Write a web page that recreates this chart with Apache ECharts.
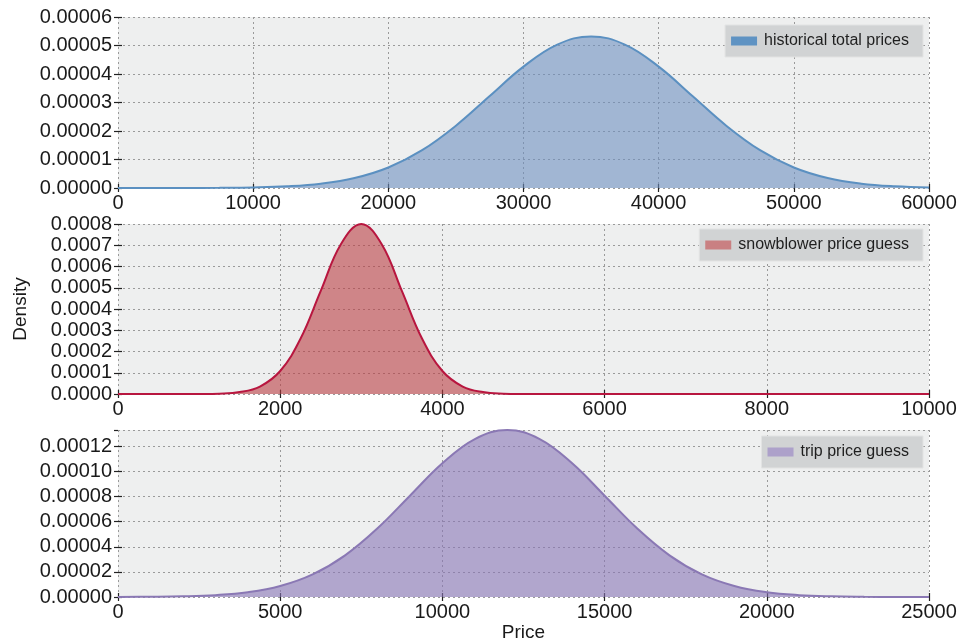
<!DOCTYPE html>
<html>
<head>
<meta charset="utf-8">
<title>Price densities</title>
<script src="https://cdn.jsdelivr.net/npm/echarts@6/dist/echarts.min.js"></script>
<style>
  html, body { margin: 0; padding: 0; background: #ffffff; }
  #chart { width: 965px; height: 643px; }
</style>
</head>
<body>
<div id="chart"></div>
<script>
// Density estimates, sampled along each price range
const histPrices = [0, 2500, 5000, 7500, 10000, 12500, 15000, 17500, 20000, 22500, 25000, 27500, 30000,
  32500, 35000, 37500, 40000, 42500, 45000, 47500, 50000, 52500, 55000, 57500, 60000];
const histDensity = [0.000000001, 0.0000000045, 0.000000018, 0.000000064, 0.000000205, 0.00000059,
  0.00000152, 0.0000035, 0.0000072, 0.00001327, 0.00002187, 0.00003227, 0.0000426, 0.00005033,
  0.0000532, 0.00005033, 0.0000426, 0.00003227, 0.00002187, 0.00001327, 0.0000072, 0.0000035,
  0.00000152, 0.00000059, 0.000000205];

const snowPrices = [0, 250, 500, 750, 1000, 1250, 1500, 1750, 2000, 2250, 2500, 2750, 3000, 3250,
  3500, 3750, 4000, 4250, 4500, 4750, 5000, 5250, 5500, 5750, 6000, 6500, 7000, 7500, 8000, 8500,
  9000, 9500, 10000];
const snowDensity = [0, 0, 0, 0.000000001, 0.00000027, 0.00000175, 0.0000089, 0.0000352, 0.0001083,
  0.0002597, 0.0004852, 0.000706, 0.0008, 0.000706, 0.0004852, 0.0002597, 0.0001083, 0.0000352,
  0.0000089, 0.00000175, 0.00000027, 0.00000003, 0.000000003, 0, 0, 0, 0, 0, 0, 0, 0, 0, 0];

const tripPrices = [0, 1000, 2000, 3000, 4000, 5000, 6000, 7000, 8000, 9000, 10000, 11000, 12000,
  13000, 14000, 15000, 16000, 17000, 18000, 19000, 20000, 21000, 22000, 23000, 24000, 25000];
const tripDensity = [0.000000045, 0.00000016, 0.00000051, 0.00000148, 0.0000038, 0.00000874,
  0.000018, 0.0000332, 0.0000547, 0.0000807, 0.0001065, 0.0001258, 0.000133, 0.0001258, 0.0001065,
  0.0000807, 0.0000547, 0.0000332, 0.000018, 0.00000874, 0.0000038, 0.00000148, 0.00000051,
  0.00000016, 0.000000045, 0.000000012];

// Axis ranges and tick steps for the three panels
const xRanges = [[0, 60000, 10000], [0, 10000, 2000], [0, 25000, 5000]];
const yRanges = [[0, 0.00006, 0.00001, 5], [0, 0.0008, 0.0001, 4], [0, 0.000133, 0.00002, 5]];
const seriesNames = ['historical total prices', 'snowblower price guess', 'trip price guess'];

const lineColors = ['#5b90c1', '#b8163f', '#8a78b4'];
const fillColors = ['rgba(110,144,191,0.6)', 'rgba(186,62,66,0.6)', 'rgba(136,117,182,0.6)'];
const legendColors = ['#5f93c3', '#c98082', '#ada1ca'];

const FONT = '"Liberation Sans", Helvetica, Arial, sans-serif';
const grids = [
  { left: 118, right: 36, top: 17, height: 171 },
  { left: 118, right: 36, top: 224, height: 170 },
  { left: 118, right: 36, top: 430, height: 170 }
];

const gridLine = { show: true, lineStyle: { color: '#9a9a9a', type: [2, 3], width: 1 } };
const tickIn = { show: true, inside: true, length: 4, lineStyle: { color: '#222', width: 1.2 } };

const xAxes = [], yAxes = [], series = [], legends = [];
const seriesData = [
  histPrices.map((p, i) => [p, histDensity[i]]),
  snowPrices.map((p, i) => [p, snowDensity[i]]),
  tripPrices.map((p, i) => [p, tripDensity[i]])
];
const legendBoxes = [
  { right: 42, top: 25 },
  { right: 42, top: 229 },
  { right: 42, top: 436 }
];

for (let g = 0; g < 3; g++) {
  const [xmin, xmax, xint] = xRanges[g];
  const [ymin, ymax, yint, dec] = yRanges[g];
  // bottom axis with labels
  xAxes.push({
    type: 'value', gridIndex: g, position: 'bottom', min: xmin, max: xmax, interval: xint,
    axisLine: { show: false }, axisTick: tickIn, splitLine: gridLine,
    axisLabel: { color: '#1a1a1a', fontSize: 20, fontFamily: FONT, margin: 5, formatter: v => String(v) },
    name: g === 2 ? 'Price' : '', nameLocation: 'middle', nameGap: 26,
    nameTextStyle: { color: '#1a1a1a', fontSize: 19, fontFamily: FONT }
  });
  // top axis carrying only the tick marks
  xAxes.push({
    type: 'value', gridIndex: g, position: 'top', min: xmin, max: xmax, interval: xint,
    axisLine: { show: false }, axisTick: tickIn, splitLine: { show: false },
    axisLabel: { show: false }
  });
  yAxes.push({
    type: 'value', gridIndex: g, position: 'left', min: ymin, max: ymax, interval: yint,
    axisLine: { show: false }, axisTick: tickIn, splitLine: gridLine,
    axisLabel: {
      color: '#1a1a1a', fontSize: 20, fontFamily: FONT, margin: 6,
      showMaxLabel: g !== 2,
      formatter: v => v.toFixed(dec)
    },
    name: g === 1 ? 'Density' : '', nameLocation: 'middle', nameGap: 88,
    nameTextStyle: { color: '#1a1a1a', fontSize: 19, fontFamily: FONT }
  });
  yAxes.push({
    type: 'value', gridIndex: g, position: 'right', min: ymin, max: ymax, interval: yint,
    axisLine: { show: false }, axisTick: tickIn, splitLine: { show: false },
    axisLabel: { show: false }
  });
  series.push({
    name: seriesNames[g], type: 'line', xAxisIndex: 2 * g, yAxisIndex: 2 * g,
    data: seriesData[g], smooth: 0.4, showSymbol: false, symbol: 'none',
    lineStyle: { color: lineColors[g], width: 2 },
    itemStyle: { color: lineColors[g] },
    areaStyle: { color: fillColors[g], opacity: 1, origin: 'start' },
    z: 3
  });
  legends.push({
    data: [{ name: seriesNames[g], itemStyle: { color: legendColors[g] } }],
    right: legendBoxes[g].right, top: legendBoxes[g].top,
    orient: 'vertical', icon: 'rect', itemWidth: 26, itemHeight: 9, itemGap: 0,
    padding: [8, 14, 8, 6],
    backgroundColor: '#d1d3d4', borderColor: '#e2e3e3', borderWidth: 1,
    textStyle: { color: '#1f1f1f', fontSize: 16, fontFamily: FONT, padding: [0, 0, 0, 2] },
    selectedMode: false
  });
}

const chart = echarts.init(document.getElementById('chart'), null, { renderer: 'canvas' });
chart.setOption({
  backgroundColor: '#ffffff',
  animation: false,
  textStyle: { fontFamily: FONT },
  grid: grids.map(g => Object.assign({ backgroundColor: '#eeefef', show: true, borderWidth: 0 }, g)),
  xAxis: xAxes,
  yAxis: yAxes,
  legend: legends,
  series: series
});
</script>
</body>
</html>
